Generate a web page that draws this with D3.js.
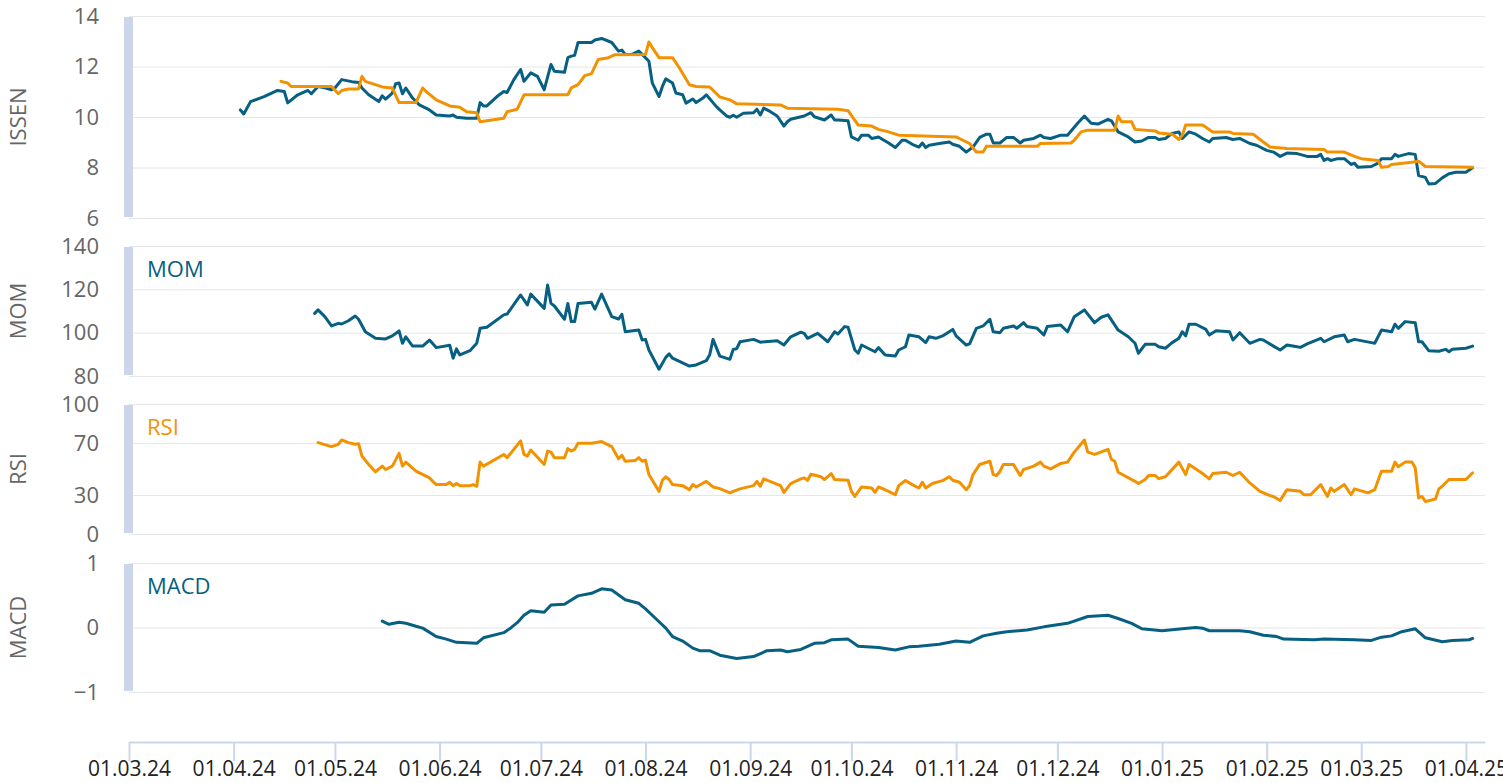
<!DOCTYPE html>
<html><head><meta charset="utf-8">
<script src="https://cdn.jsdelivr.net/npm/d3@7"></script>
<style>html,body{margin:0;padding:0;background:#fff;overflow:hidden}svg{display:block}</style>
</head><body><svg id="c" width="1503" height="783"></svg>
<script>
// ---------- DATA ----------
const xTickFormat = "%d.%m.%y";
const panelTitles = ["ISSEN", "MOM", "RSI", "MACD"];
const issenTicks = [6, 8, 10, 12, 14];
const momTicks = [80, 100, 120, 140];
const rsiTicks = [0, 30, 70, 100];
const macdTicks = [-1, 0, 1];

const issen = [
["2024-04-03",10.28],["2024-04-04",10.12],["2024-04-06",10.61],["2024-04-10",10.81],["2024-04-14",11.05],["2024-04-16",11.01],["2024-04-17",10.56],["2024-04-20",10.88],["2024-04-23",11.05],["2024-04-24",10.92],["2024-04-26",11.21],["2024-04-28",11.16],["2024-04-30",11.08],
["2024-05-01",11.15],["2024-05-03",11.48],["2024-05-06",11.40],["2024-05-08",11.37],["2024-05-09",11.15],["2024-05-11",10.88],["2024-05-14",10.61],["2024-05-15",10.84],["2024-05-16",10.71],["2024-05-18",10.95],["2024-05-19",11.32],["2024-05-20",11.35],["2024-05-21",10.92],["2024-05-22",11.15],["2024-05-24",10.75],["2024-05-26",10.48],["2024-05-29",10.28],["2024-05-31",10.08],
["2024-06-04",10.04],["2024-06-05",10.08],["2024-06-06",9.99],["2024-06-09",9.95],["2024-06-12",9.95],["2024-06-13",10.57],["2024-06-14",10.44],["2024-06-15",10.44],["2024-06-18",10.81],["2024-06-20",11.01],["2024-06-21",10.97],["2024-06-23",11.48],["2024-06-25",11.88],["2024-06-26",11.41],["2024-06-28",11.75],["2024-06-30",11.61],
["2024-07-02",11.08],["2024-07-04",12.08],["2024-07-05",11.81],["2024-07-08",11.77],["2024-07-09",12.35],["2024-07-10",12.41],["2024-07-11",12.44],["2024-07-12",12.95],["2024-07-16",12.95],["2024-07-17",13.05],["2024-07-19",13.11],["2024-07-22",12.95],["2024-07-24",12.61],["2024-07-25",12.65],["2024-07-26",12.48],["2024-07-28",12.48],["2024-07-30",12.61],["2024-07-31",12.48],
["2024-08-02",12.21],["2024-08-03",11.35],["2024-08-05",10.81],["2024-08-06",11.21],["2024-08-07",11.51],["2024-08-09",11.35],["2024-08-10",10.95],["2024-08-12",10.88],["2024-08-13",10.55],["2024-08-15",10.71],["2024-08-16",10.57],["2024-08-18",10.75],["2024-08-19",10.88],["2024-08-22",10.41],["2024-08-23",10.28],["2024-08-25",10.04],["2024-08-26",9.99],["2024-08-27",10.07],["2024-08-28",9.99],["2024-08-30",10.15],
["2024-09-02",10.17],["2024-09-03",10.31],["2024-09-04",10.08],["2024-09-05",10.35],["2024-09-07",10.21],["2024-09-09",10.04],["2024-09-11",9.64],["2024-09-12",9.81],["2024-09-13",9.91],["2024-09-17",10.04],["2024-09-19",10.17],["2024-09-20",10.01],["2024-09-23",9.88],["2024-09-25",10.08],["2024-09-26",9.88],["2024-09-27",9.88],["2024-09-30",9.85],
["2024-10-01",9.21],["2024-10-03",9.08],["2024-10-04",9.28],["2024-10-06",9.28],["2024-10-07",9.15],["2024-10-09",9.21],["2024-10-12",8.97],["2024-10-14",8.79],["2024-10-16",9.08],["2024-10-17",9.08],["2024-10-19",8.92],["2024-10-21",8.81],["2024-10-22",8.97],["2024-10-23",8.79],["2024-10-24",8.88],["2024-10-27",8.95],["2024-10-30",9.01],["2024-10-31",8.92],
["2024-11-02",8.84],["2024-11-04",8.61],["2024-11-06",8.81],["2024-11-08",9.19],["2024-11-10",9.32],["2024-11-11",9.32],["2024-11-12",8.97],["2024-11-14",8.97],["2024-11-16",9.19],["2024-11-18",9.19],["2024-11-20",8.97],["2024-11-21",9.08],["2024-11-24",9.15],["2024-11-26",9.28],["2024-11-27",9.19],["2024-11-29",9.15],
["2024-12-02",9.28],["2024-12-04",9.28],["2024-12-07",9.75],["2024-12-09",10.04],["2024-12-11",9.75],["2024-12-13",9.72],["2024-12-16",9.91],["2024-12-17",9.85],["2024-12-19",9.41],["2024-12-22",9.21],["2024-12-24",9.01],["2024-12-26",9.05],["2024-12-28",9.19],["2024-12-30",9.19],["2024-12-31",9.11],
["2025-01-02",9.15],["2025-01-04",9.35],["2025-01-06",9.41],["2025-01-07",9.15],["2025-01-09",9.41],["2025-01-11",9.32],["2025-01-13",9.15],["2025-01-15",9.01],["2025-01-16",9.15],["2025-01-20",9.19],["2025-01-22",9.11],["2025-01-24",9.15],["2025-01-27",8.95],["2025-01-29",8.88],
["2025-02-01",8.68],["2025-02-03",8.61],["2025-02-05",8.44],["2025-02-07",8.57],["2025-02-10",8.55],["2025-02-13",8.44],["2025-02-16",8.44],["2025-02-17",8.52],["2025-02-18",8.28],["2025-02-19",8.35],["2025-02-20",8.28],["2025-02-22",8.35],["2025-02-24",8.35],["2025-02-26",8.12],["2025-02-27",8.17],["2025-02-28",8.01],
["2025-03-04",8.04],["2025-03-06",8.17],["2025-03-07",8.35],["2025-03-10",8.35],["2025-03-11",8.52],["2025-03-12",8.44],["2025-03-13",8.48],["2025-03-15",8.55],["2025-03-17",8.52],["2025-03-18",7.68],["2025-03-20",7.61],["2025-03-21",7.35],["2025-03-23",7.37],["2025-03-25",7.59],["2025-03-27",7.75],["2025-03-29",7.81],
["2025-04-01",7.81],["2025-04-03",7.99]
];

const issenSignal = [
["2024-04-15",11.41],["2024-04-17",11.35],["2024-04-18",11.21],["2024-04-30",11.21],["2024-05-02",10.92],["2024-05-03",11.05],["2024-05-05",11.11],["2024-05-08",11.11],["2024-05-09",11.61],["2024-05-10",11.41],["2024-05-13",11.28],["2024-05-15",11.19],["2024-05-18",11.15],["2024-05-20",10.57],["2024-05-25",10.57],["2024-05-27",11.15],["2024-05-28",11.01],["2024-05-31",10.68],
["2024-06-04",10.44],["2024-06-07",10.39],["2024-06-09",10.21],["2024-06-12",10.17],["2024-06-13",9.81],["2024-06-20",9.95],["2024-06-21",10.21],["2024-06-24",10.31],["2024-06-26",10.88],
["2024-07-09",10.88],["2024-07-10",11.15],["2024-07-12",11.28],["2024-07-14",11.64],["2024-07-16",11.72],["2024-07-18",12.28],["2024-07-21",12.35],["2024-07-23",12.47],
["2024-08-01",12.48],["2024-08-02",12.97],["2024-08-03",12.75],["2024-08-05",12.35],["2024-08-09",12.35],["2024-08-11",11.95],["2024-08-14",11.28],["2024-08-16",11.21],["2024-08-20",11.19],["2024-08-23",10.79],["2024-08-26",10.68],["2024-08-28",10.52],
["2024-09-10",10.48],["2024-09-12",10.35],["2024-09-27",10.31],["2024-09-30",10.25],
["2024-10-03",9.68],["2024-10-07",9.64],["2024-10-09",9.51],["2024-10-12",9.41],["2024-10-15",9.28],
["2024-11-01",9.21],["2024-11-03",9.08],["2024-11-05",8.95],["2024-11-07",8.61],["2024-11-09",8.61],["2024-11-10",8.84],["2024-11-25",8.84],["2024-11-26",8.95],
["2024-12-05",8.97],["2024-12-06",9.08],["2024-12-08",9.41],["2024-12-10",9.48],["2024-12-18",9.48],["2024-12-19",10.04],["2024-12-20",9.81],["2024-12-23",9.81],["2024-12-24",9.51],["2024-12-30",9.45],["2024-12-31",9.37],
["2025-01-04",9.32],["2025-01-06",9.11],["2025-01-07",9.28],["2025-01-08",9.68],["2025-01-13",9.68],["2025-01-14",9.59],["2025-01-16",9.41],["2025-01-21",9.41],["2025-01-22",9.35],["2025-01-28",9.32],["2025-01-30",9.11],
["2025-02-02",8.81],["2025-02-07",8.75],["2025-02-18",8.71],["2025-02-19",8.61],["2025-02-24",8.61],["2025-02-27",8.44],
["2025-03-01",8.35],["2025-03-06",8.28],["2025-03-07",8.01],["2025-03-09",8.04],["2025-03-10",8.12],["2025-03-16",8.21],["2025-03-18",8.25],["2025-03-20",8.04],["2025-04-03",8.01]
];

const mom = [
["2024-04-25",108.9],["2024-04-26",110.5],["2024-04-28",107.4],["2024-04-30",103.1],["2024-05-02",104.3],["2024-05-03",104.0],["2024-05-05",105.5],["2024-05-07",107.7],["2024-05-08",106.2],["2024-05-10",100.4],["2024-05-13",97.4],["2024-05-16",97.1],["2024-05-18",98.5],["2024-05-20",100.8],["2024-05-21",95.1],["2024-05-22",98.1],["2024-05-24",93.8],["2024-05-27",93.8],["2024-05-29",96.6],["2024-05-31",93.1],
["2024-06-04",94.2],["2024-06-05",88.2],["2024-06-06",92.5],["2024-06-07",89.7],["2024-06-10",91.7],["2024-06-12",95.1],["2024-06-13",102.0],["2024-06-15",102.5],["2024-06-20",108.2],["2024-06-21",108.6],["2024-06-25",117.4],["2024-06-27",112.8],["2024-06-28",117.8],
["2024-07-02",111.2],["2024-07-03",122.0],["2024-07-04",113.5],["2024-07-05",112.3],["2024-07-08",106.2],["2024-07-09",113.5],["2024-07-10",105.1],["2024-07-11",105.1],["2024-07-12",113.5],["2024-07-16",114.0],["2024-07-17",110.9],["2024-07-19",117.8],["2024-07-22",107.4],["2024-07-24",106.3],["2024-07-25",108.5],["2024-07-26",100.4],["2024-07-30",101.2],["2024-07-31",96.6],
["2024-08-01",96.9],["2024-08-02",92.0],["2024-08-05",83.1],["2024-08-07",88.6],["2024-08-08",90.2],["2024-08-09",88.2],["2024-08-14",84.6],["2024-08-16",85.1],["2024-08-19",87.1],["2024-08-20",89.7],["2024-08-21",96.9],["2024-08-23",89.2],["2024-08-26",87.7],["2024-08-27",92.3],["2024-08-28",92.6],["2024-08-29",95.8],
["2024-09-02",96.9],["2024-09-04",95.6],["2024-09-09",96.3],["2024-09-11",94.3],["2024-09-13",98.1],["2024-09-16",100.2],["2024-09-17",99.7],["2024-09-18",97.4],["2024-09-21",99.7],["2024-09-24",95.8],["2024-09-26",100.4],["2024-09-27",99.4],["2024-09-29",102.8],["2024-09-30",102.5],
["2024-10-02",92.0],["2024-10-03",90.5],["2024-10-04",94.3],["2024-10-08",91.2],["2024-10-09",93.1],["2024-10-11",89.7],["2024-10-14",89.2],["2024-10-15",92.0],["2024-10-17",93.5],["2024-10-18",98.9],["2024-10-21",98.1],["2024-10-23",95.4],["2024-10-24",98.1],["2024-10-26",97.4],["2024-10-28",98.5],["2024-10-31",101.5],
["2024-11-01",98.5],["2024-11-04",94.3],["2024-11-05",94.8],["2024-11-07",102.0],["2024-11-09",103.1],["2024-11-11",106.2],["2024-11-12",100.4],["2024-11-14",100.0],["2024-11-15",102.0],["2024-11-18",103.1],["2024-11-19",102.0],["2024-11-21",104.6],["2024-11-22",102.8],["2024-11-25",102.0],["2024-11-27",98.9],["2024-11-28",102.8],
["2024-12-02",103.5],["2024-12-04",100.4],["2024-12-06",107.4],["2024-12-09",110.5],["2024-12-12",104.6],["2024-12-14",107.1],["2024-12-16",108.2],["2024-12-19",101.2],["2024-12-22",98.1],["2024-12-24",95.1],["2024-12-25",90.5],["2024-12-27",94.6],["2024-12-30",94.6],["2024-12-31",93.5],
["2025-01-02",92.8],["2025-01-04",95.4],["2025-01-06",97.4],["2025-01-07",100.4],["2025-01-08",98.5],["2025-01-09",103.9],["2025-01-11",103.9],["2025-01-14",101.5],["2025-01-15",98.9],["2025-01-17",100.9],["2025-01-21",100.4],["2025-01-22",96.6],["2025-01-24",100.0],["2025-01-27",95.1],["2025-01-30",96.9],["2025-01-31",96.6],
["2025-02-03",93.8],["2025-02-05",92.0],["2025-02-07",94.3],["2025-02-10",93.5],["2025-02-11",93.2],["2025-02-13",94.8],["2025-02-17",97.4],["2025-02-18",95.8],["2025-02-21",98.1],["2025-02-24",98.9],["2025-02-25",95.8],["2025-02-27",96.9],
["2025-03-04",95.4],["2025-03-05",95.1],["2025-03-07",101.2],["2025-03-10",100.4],["2025-03-11",103.9],["2025-03-12",102.0],["2025-03-14",105.1],["2025-03-17",104.6],["2025-03-18",95.8],["2025-03-19",95.8],["2025-03-21",91.7],["2025-03-24",91.4],["2025-03-26",92.3],["2025-03-27",91.2],["2025-03-28",92.3],
["2025-04-01",92.8],["2025-04-03",93.8]
];

const rsi = [
["2024-04-26",70.3],["2024-04-30",67.2],["2024-05-02",69.0],["2024-05-03",72.3],["2024-05-05",70.3],["2024-05-07",69.0],["2024-05-08",69.5],["2024-05-09",59.9],["2024-05-11",53.5],["2024-05-13",47.8],["2024-05-15",52.2],["2024-05-16",49.6],["2024-05-18",52.2],["2024-05-20",62.0],["2024-05-21",52.2],["2024-05-22",55.3],["2024-05-25",48.3],["2024-05-29",43.2],["2024-05-30",40.5],["2024-05-31",38.0],
["2024-06-03",38.0],["2024-06-04",39.8],["2024-06-05",37.2],["2024-06-06",38.8],["2024-06-07",37.2],["2024-06-10",37.2],["2024-06-11",38.0],["2024-06-12",36.7],["2024-06-13",55.3],["2024-06-14",52.2],["2024-06-20",61.2],["2024-06-21",58.7],["2024-06-25",71.6],["2024-06-26",61.2],["2024-06-27",59.9],["2024-06-28",64.6],
["2024-07-02",53.5],["2024-07-03",63.8],["2024-07-04",63.0],["2024-07-05",58.7],["2024-07-08",58.7],["2024-07-09",65.7],["2024-07-10",63.8],["2024-07-11",65.1],["2024-07-12",69.8],["2024-07-16",69.8],["2024-07-19",71.1],["2024-07-22",67.2],["2024-07-24",57.9],["2024-07-25",60.5],["2024-07-26",56.0],["2024-07-29",56.6],["2024-07-30",58.7],["2024-07-31",56.0],
["2024-08-01",56.8],["2024-08-02",45.7],["2024-08-05",32.8],["2024-08-06",41.3],["2024-08-07",44.0],["2024-08-08",41.9],["2024-08-09",38.0],["2024-08-12",37.2],["2024-08-14",34.1],["2024-08-15",38.0],["2024-08-16",36.2],["2024-08-19",40.5],["2024-08-21",36.2],["2024-08-23",34.9],["2024-08-26",31.6],["2024-08-27",32.8],["2024-08-29",34.7],
["2024-09-02",37.2],["2024-09-03",40.5],["2024-09-04",36.7],["2024-09-05",42.4],["2024-09-10",37.2],["2024-09-11",32.0],["2024-09-13",38.8],["2024-09-16",42.4],["2024-09-17",43.2],["2024-09-18",41.3],["2024-09-19",46.0],["2024-09-22",44.0],["2024-09-23",41.9],["2024-09-25",46.5],["2024-09-26",41.9],["2024-09-30",41.3],
["2024-10-01",32.8],["2024-10-02",28.9],["2024-10-04",36.2],["2024-10-07",35.4],["2024-10-08",32.0],["2024-10-09",36.2],["2024-10-12",32.8],["2024-10-14",30.2],["2024-10-15",37.2],["2024-10-17",41.1],["2024-10-19",38.0],["2024-10-21",35.4],["2024-10-22",39.8],["2024-10-23",35.4],["2024-10-25",38.8],["2024-10-28",41.1],["2024-10-30",44.0],["2024-10-31",41.3],
["2024-11-02",39.8],["2024-11-04",34.1],["2024-11-05",37.2],["2024-11-06",45.7],["2024-11-08",53.5],["2024-11-11",56.0],["2024-11-12",45.7],["2024-11-13",45.0],["2024-11-14",48.3],["2024-11-15",53.5],["2024-11-18",53.5],["2024-11-20",45.0],["2024-11-21",49.6],["2024-11-24",52.2],["2024-11-26",55.3],["2024-11-27",52.2],["2024-11-29",50.1],
["2024-12-02",54.3],["2024-12-04",55.3],["2024-12-06",63.0],["2024-12-09",72.3],["2024-12-10",63.0],["2024-12-12",61.2],["2024-12-16",65.1],["2024-12-17",57.4],["2024-12-18",56.0],["2024-12-19",47.5],["2024-12-24",40.5],["2024-12-25",38.8],["2024-12-27",41.9],["2024-12-28",45.0],["2024-12-30",45.0],["2024-12-31",42.6],
["2025-01-02",44.0],["2025-01-06",55.3],["2025-01-08",45.7],["2025-01-09",53.5],["2025-01-13",46.5],["2025-01-15",42.4],["2025-01-16",46.5],["2025-01-20",47.5],["2025-01-22",45.0],["2025-01-24",47.5],["2025-01-27",39.3],["2025-01-30",32.8],
["2025-02-02",29.5],["2025-02-03",28.9],["2025-02-05",25.8],["2025-02-07",34.1],["2025-02-11",32.8],["2025-02-12",30.2],["2025-02-14",30.2],["2025-02-17",38.0],["2025-02-19",28.9],["2025-02-20",35.4],["2025-02-21",32.8],["2025-02-24",38.0],["2025-02-26",30.2],["2025-02-27",34.7],
["2025-03-03",31.6],["2025-03-05",34.1],["2025-03-07",48.3],["2025-03-10",48.3],["2025-03-11",55.3],["2025-03-12",51.7],["2025-03-14",55.3],["2025-03-16",55.3],["2025-03-17",50.9],["2025-03-18",27.7],["2025-03-19",28.9],["2025-03-20",25.0],["2025-03-23",26.9],["2025-03-24",34.7],["2025-03-25",36.7],["2025-03-27",41.9],
["2025-04-01",41.9],["2025-04-03",47.1]
];

const macd = [
["2024-05-15",0.10],["2024-05-17",0.05],["2024-05-20",0.08],["2024-05-22",0.065],["2024-05-25",0.02],["2024-05-27",-0.01],["2024-05-31",-0.14],
["2024-06-03",-0.18],["2024-06-06",-0.23],["2024-06-12",-0.245],["2024-06-14",-0.16],["2024-06-20",-0.08],["2024-06-22",-0.01],["2024-06-24",0.075],["2024-06-26",0.19],["2024-06-28",0.26],
["2024-07-02",0.235],["2024-07-04",0.35],["2024-07-08",0.36],["2024-07-12",0.49],["2024-07-16",0.53],["2024-07-19",0.60],["2024-07-22",0.58],["2024-07-26",0.43],["2024-07-30",0.375],
["2024-08-01",0.29],["2024-08-04",0.14],["2024-08-07",-0.01],["2024-08-09",-0.14],["2024-08-12",-0.21],["2024-08-15",-0.32],["2024-08-17",-0.36],["2024-08-20",-0.36],["2024-08-23",-0.43],["2024-08-28",-0.48],
["2024-09-02",-0.45],["2024-09-06",-0.36],["2024-09-10",-0.35],["2024-09-12",-0.375],["2024-09-16",-0.34],["2024-09-20",-0.245],["2024-09-23",-0.235],["2024-09-25",-0.19],["2024-09-30",-0.18],
["2024-10-03",-0.29],["2024-10-09",-0.31],["2024-10-14",-0.35],["2024-10-18",-0.30],["2024-10-21",-0.29],["2024-10-27",-0.26],
["2024-11-01",-0.21],["2024-11-05",-0.23],["2024-11-09",-0.13],["2024-11-13",-0.09],["2024-11-16",-0.065],["2024-11-22",-0.04],["2024-11-27",0.01],
["2024-12-04",0.065],["2024-12-10",0.17],["2024-12-16",0.19],["2024-12-19",0.14],["2024-12-23",0.065],["2024-12-26",-0.02],
["2025-01-01",-0.05],["2025-01-07",-0.02],["2025-01-11",0.0],["2025-01-13",-0.01],["2025-01-15",-0.05],["2025-01-24",-0.05],["2025-01-27",-0.065],["2025-01-31",-0.12],
["2025-02-04",-0.14],["2025-02-06",-0.18],["2025-02-15",-0.19],["2025-02-18",-0.18],["2025-02-27",-0.19],
["2025-03-04",-0.20],["2025-03-07",-0.15],["2025-03-10",-0.13],["2025-03-13",-0.065],["2025-03-17",-0.02],["2025-03-20",-0.16],["2025-03-25",-0.22],["2025-03-28",-0.20],
["2025-04-02",-0.19],["2025-04-03",-0.17]
];

// ---------- STYLE ----------
const BLUE = "#075f82", ORANGE = "#f39200";
const FONT = "'Open Sans', sans-serif";
const xLeft = 129, xRight = 1485;

const panels = [
  {title: panelTitles[0], domain: [6, 14], range: [218, 16], ticks: issenTicks, series: [[issen, BLUE], [issenSignal, ORANGE]]},
  {title: panelTitles[1], domain: [80, 140], range: [376, 246], ticks: momTicks, series: [[mom, BLUE]], label: "MOM", labelColor: BLUE},
  {title: panelTitles[2], domain: [0, 100], range: [534, 404], ticks: rsiTicks, series: [[rsi, ORANGE]], label: "RSI", labelColor: ORANGE},
  {title: panelTitles[3], domain: [-1, 1], range: [692, 563], ticks: macdTicks, series: [[macd, BLUE]], label: "MACD", labelColor: BLUE}
];

const parse = d3.utcParse("%Y-%m-%d");
const svg = d3.select("#c");
const x = d3.scaleUtc()
  .domain([new Date(Date.UTC(2024, 2, 1)), new Date(Date.UTC(2025, 3, 6, 16))])
  .range([xLeft, xRight]);

panels.forEach(p => {
  const y = d3.scaleLinear().domain(p.domain).range(p.range);
  const g = svg.append("g");
  const ax = d3.axisLeft(y).tickValues(p.ticks).tickSize(-(xRight - xLeft)).tickPadding(30).tickFormat(d3.format("d"));
  const ag = g.append("g").attr("transform", `translate(${xLeft},0)`).call(ax)
    .attr("font-family", FONT).attr("font-size", 22);
  ag.select(".domain").remove();
  ag.selectAll(".tick line").attr("stroke", "#e6e6e6").attr("stroke-width", 1);
  ag.selectAll(".tick text").attr("fill", "#666");

  g.append("rect").attr("x", 124).attr("width", 9)
    .attr("y", p.range[1] + 1).attr("height", p.range[0] - p.range[1] - 2)
    .attr("fill", "#ccd6eb");

  const cy = (p.range[0] + p.range[1]) / 2;
  g.append("text").attr("transform", `translate(25.5,${cy}) rotate(-90)`)
    .attr("text-anchor", "middle").attr("font-family", FONT).attr("font-size", 22)
    .attr("fill", "#666").text(p.title);

  if (p.label) {
    g.append("text").attr("x", 147).attr("y", p.range[1] + 31)
      .attr("font-family", FONT).attr("font-size", 22).attr("fill", p.labelColor).text(p.label);
  }

  const line = d3.line().x(d => x(parse(d[0]))).y(d => y(d[1]));
  p.series.forEach(([data, color]) => {
    g.append("path").datum(data).attr("d", line)
      .attr("fill", "none").attr("stroke", color).attr("stroke-width", 3)
      .attr("stroke-linejoin", "round").attr("stroke-linecap", "round");
  });
});

const xa = d3.axisBottom(x).ticks(d3.utcMonth.every(1)).tickFormat(d3.utcFormat(xTickFormat))
  .tickSize(19).tickSizeOuter(0).tickPadding(0);
const xg = svg.append("g").attr("transform", "translate(0,742)").call(xa)
  .attr("font-family", FONT).attr("font-size", 21);
xg.select(".domain").attr("stroke", "#ccd6eb").attr("stroke-width", 2);
xg.selectAll(".tick line").attr("stroke", "#ccd6eb").attr("stroke-width", 2);
xg.selectAll(".tick text").attr("fill", "#222");
</script>
</body></html>
